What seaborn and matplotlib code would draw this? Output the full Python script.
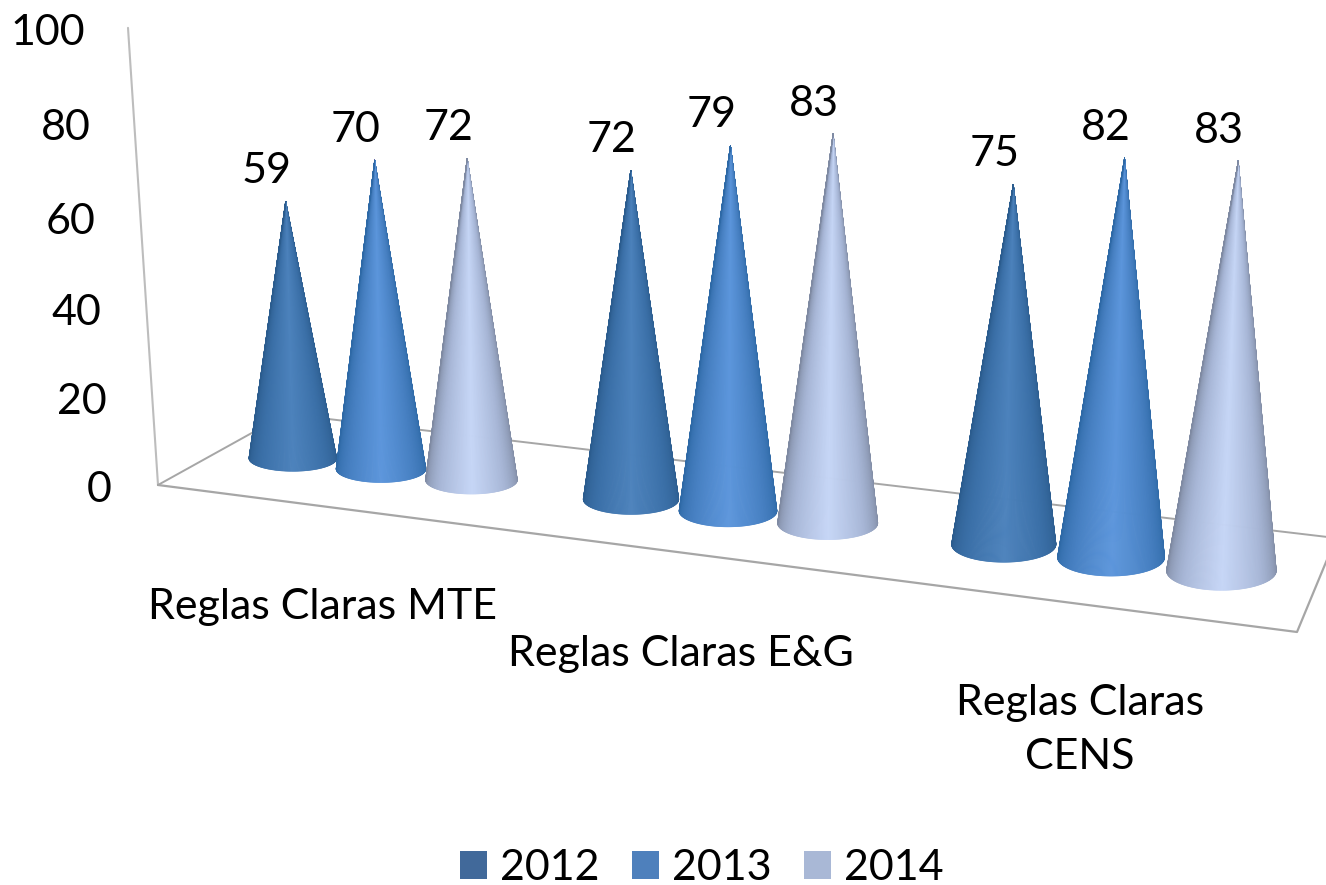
import matplotlib
matplotlib.use('Agg')
import matplotlib.pyplot as plt
from matplotlib.collections import PolyCollection
from matplotlib.patches import Patch
import numpy as np
import pandas as pd
import seaborn as sns

categories = ['Reglas Claras MTE', 'Reglas Claras E&G', 'Reglas Claras\nCENS']
years = ['2012', '2013', '2014']
values_2012 = [59, 72, 75]
values_2013 = [70, 79, 82]
values_2014 = [72, 83, 83]
y_ticks = [0, 20, 40, 60, 80, 100]

legend_colors = ['#41699A', '#4E80BC', '#A9B8D6']
# edge / middle / highlight of each cone
shades = [['#2B5C8E', '#3B70A8', '#4C82BC'],
          ['#2E69A6', '#4780C2', '#5C96DC'],
          ['#7F8AA2', '#A7B6D6', '#C6D6F6']]

sns.set_theme(style='white')
plt.rcParams['font.family'] = ['Lato', 'DejaVu Sans']
FS = 31

df = pd.DataFrame({'category': np.repeat(categories, 3),
                   'year': years * 3,
                   'value': [v for t in zip(values_2012, values_2013, values_2014) for v in t]})
df['group'] = df['category'].map({c: i for i, c in enumerate(categories)})
df['series'] = df['year'].map({y: i for i, y in enumerate(years)})


def project(u, v=0):
    """Category position u and value v to the perspective picture."""
    w = 1 - 0.047 * u
    x = (381 + 312.8 * u) / w
    y = (469 + 18 * u) / w
    s = 4.41 / w
    return x + 0.00035 * (x - 640) * v, y - s * v, s, w


def wall(v):
    w = 1 - 0.00052 * v
    return 158 - 0.3 * v, (485 - 4.586 * v) / w


def draw_cone(ax, u, value, shade, z):
    cx, cy, s, w = project(u)
    ax_x, ax_y = project(u, value)[:2]
    rx = 3.15 * s ** 1.79
    ry = 0.3 * rx / w ** 1.5
    a = np.arcsin(min(ry / (cy - ax_y), 0.9))
    th = np.linspace(-a, np.pi + a, 160)
    px = cx + rx * np.cos(th)
    py = cy + ry * np.sin(th)
    ramp = sns.blend_palette([shade[0], shade[1], shade[2], shade[1], shade[0]], 159)
    polys = [[(ax_x, ax_y), (px[i], py[i]), (px[i + 1], py[i + 1])] for i in range(159)]
    ax.add_collection(PolyCollection(polys, facecolors=ramp, edgecolors=ramp,
                                     linewidths=0.5, zorder=z))


fig = plt.figure(figsize=(13.26, 8.85), dpi=100)
ax = fig.add_axes([0, 0, 1, 1])
ax.set_xlim(0, 1326)
ax.set_ylim(885, 0)
ax.axis('off')

# floor and wall frame
frame = '#A6A6A6'
ax.plot([wall(100)[0], wall(0)[0]], [wall(100)[1], wall(0)[1]], color='#BDBDBD', lw=1.5, zorder=1)
ax.plot([158, 1297, 1336], [485, 632, 538], color=frame, lw=1.6, zorder=1)
ax.plot([158, 286, 1336], [485, 414, 538], color=frame, lw=1.4, zorder=1)

for tick in y_ticks:
    tx, ty = wall(tick)
    ax.text(112 - 0.27 * tick, ty + 5, str(tick), ha='right', va='center', fontsize=FS, color='black')

for i, row in df.iterrows():
    u = row['group'] + (row['series'] - 1) * 0.27
    draw_cone(ax, u, row['value'], shades[row['series']], 3 + i)
    tip_x, tip_y = project(u, row['value'])[:2]
    ax.annotate(str(row['value']), (tip_x, tip_y), xytext=(-19 * 0.72, 30 * 0.72),
                textcoords='offset points', ha='center', va='center', fontsize=FS,
                color='black', zorder=20)

# category labels sit below and left of the group
label_dx = [-58, -47, -31]
label_dy = [138, 143, 0]
for g, name in enumerate(categories):
    x0, y0 = project(g)[:2]
    if '\n' in name:
        ax.text(x0 + label_dx[g], 730, name, ha='center', va='center', fontsize=FS,
                linespacing=1.5, color='black')
    else:
        ax.text(x0 + label_dx[g], y0 + label_dy[g], name, ha='center', va='center',
                fontsize=FS, color='black')

handles = [Patch(facecolor=c, edgecolor='none') for c in legend_colors]
ax.legend(handles, years, loc='center', bbox_to_anchor=(702 / 1326, 1 - 868 / 885),
          ncol=3, frameon=False, fontsize=FS, handlelength=0.63, handleheight=0.63,
          handletextpad=0.3, columnspacing=0.75, borderpad=0, borderaxespad=0,
          labelcolor='black')

fig.savefig('out.png', dpi=100)
plt.close(fig)
